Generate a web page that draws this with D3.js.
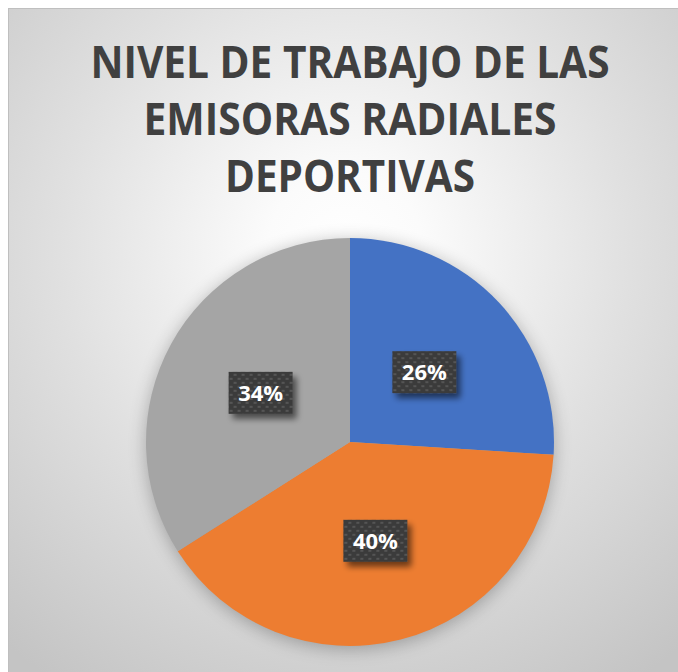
<!DOCTYPE html>
<html>
  <head>
    <meta charset="utf-8">
    <title>Nivel de trabajo de las emisoras radiales deportivas</title>
    <script src="https://d3js.org/d3.v7.min.js"></script>
    <style>
      body { margin: 0; background: #fff; }
      #chart { display: block; }
    </style>
  </head>
  <body>
    <svg id="chart" width="678" height="672"></svg>
    <script>
      // chart data
      titleLines = ["NIVEL DE TRABAJO DE LAS", "EMISORAS RADIALES", "DEPORTIVAS"];
      titleWidths = [519, 413, 250];
      categories = ["A", "B", "C"];
      shares = [26, 40, 34];
      sliceColours = ["#4472c4", "#ed7d31", "#a5a5a5"];

      // name page elements
      width = 678;
      height = 672;
      svg = d3.select("#chart");
      defs = svg.append("defs");

      // background gradient
      bg = defs.append("radialGradient")
        .attr("id", "bgGrad")
        .attr("gradientUnits", "userSpaceOnUse")
        .attr("cx", 345).attr("cy", 250)
        .attr("fx", 345).attr("fy", 250)
        .attr("r", 520);
      bg.append("stop").attr("offset", "0").attr("stop-color", "#ffffff");
      bg.append("stop").attr("offset", "0.15").attr("stop-color", "#fbfbfb");
      bg.append("stop").attr("offset", "0.55").attr("stop-color", "#e0e0e0");
      bg.append("stop").attr("offset", "1").attr("stop-color", "#c4c4c4");

      // soft shadow round the pie
      pieShadow = defs.append("filter")
        .attr("id", "pieShadow")
        .attr("x", "-30%").attr("y", "-30%")
        .attr("width", "160%").attr("height", "160%");
      pieShadow.append("feGaussianBlur").attr("in", "SourceAlpha").attr("stdDeviation", 9);
      pieShadow.append("feOffset").attr("dy", 3).attr("result", "blur");
      pieShadow.append("feComponentTransfer")
        .append("feFuncA").attr("type", "linear").attr("slope", 0.28);

      // label box shadow
      boxShadow = defs.append("filter")
        .attr("id", "boxShadow")
        .attr("x", "-30%").attr("y", "-30%")
        .attr("width", "160%").attr("height", "160%");
      boxShadow.append("feGaussianBlur").attr("in", "SourceAlpha").attr("stdDeviation", 3);
      boxShadow.append("feOffset").attr("dx", 4).attr("dy", 5).attr("result", "off");
      boxShadow.append("feComponentTransfer")
        .append("feFuncA").attr("type", "linear").attr("slope", 0.55);
      merge = boxShadow.append("feMerge");
      merge.append("feMergeNode");
      merge.append("feMergeNode").attr("in", "SourceGraphic");

      // dotted pattern for label boxes
      dots = defs.append("pattern")
        .attr("id", "dots")
        .attr("patternUnits", "userSpaceOnUse")
        .attr("width", 8).attr("height", 8);
      dots.append("rect").attr("width", 8).attr("height", 8).attr("fill", "#3b3b3b");
      dots.append("rect").attr("x", 1).attr("y", 1).attr("width", 3).attr("height", 2).attr("fill", "#555555");
      dots.append("rect").attr("x", 5).attr("y", 5).attr("width", 3).attr("height", 2).attr("fill", "#555555");

      // chart area
      svg.append("rect")
        .attr("x", 8.5).attr("y", 8.5)
        .attr("width", width).attr("height", height)
        .attr("fill", "url(#bgGrad)")
        .attr("stroke", "#bfbfbf");

      // title
      svg.append("g")
        .selectAll("text")
          .data(titleLines)
        .enter().append("text")
          .attr("x", 350)
          .attr("y", function(d, i) { return 78 + i * 57; })
          .attr("text-anchor", "middle")
          .attr("textLength", function(d, i) { return titleWidths[i]; })
          .attr("lengthAdjust", "spacingAndGlyphs")
          .attr("font-family", "'Open Sans', sans-serif")
          .attr("font-weight", 700)
          .attr("font-size", 44)
          .attr("fill", "#404040")
          .text(function(d) { return d; });

      // pie
      radius = 204;
      cx = 350;
      cy = 442;
      pie = d3.pie().sort(null).value(function(d) { return d; });
      arc = d3.arc().innerRadius(0).outerRadius(radius);
      slices = pie(shares);

      pieGroup = svg.append("g")
        .attr("transform", "translate(" + cx + "," + cy + ")");
      pieGroup.append("circle")
        .attr("r", radius)
        .attr("fill", "#000")
        .attr("filter", "url(#pieShadow)");
      pieGroup.selectAll(".slice")
          .data(slices)
        .enter().append("path")
          .classed("slice", true)
          .attr("d", arc)
          .attr("fill", function(d, i) { return sliceColours[i]; });

      // data labels
      labels = pieGroup.selectAll(".label")
          .data(slices)
        .enter().append("g")
          .classed("label", true)
          .attr("transform", function(d) { return "translate(" + arc.centroid(d) + ")"; });
      labels.append("rect")
        .attr("x", -32).attr("y", -21)
        .attr("width", 64).attr("height", 42)
        .attr("fill", "url(#dots)")
        .attr("filter", "url(#boxShadow)");
      labels.append("text")
        .attr("text-anchor", "middle")
        .attr("dy", "0.36em")
        .attr("font-family", "'Open Sans', sans-serif")
        .attr("font-weight", 700)
        .attr("font-size", 22)
        .attr("fill", "#ffffff")
        .text(function(d) { return d.data + "%"; });
    </script>
  </body>
</html>
